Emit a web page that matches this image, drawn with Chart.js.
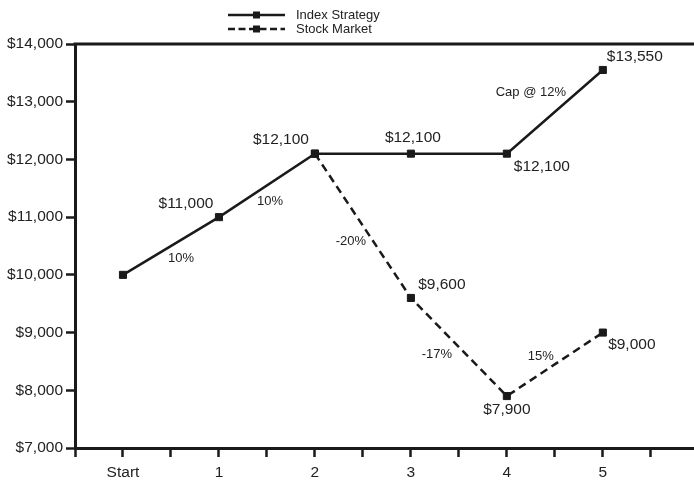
<!DOCTYPE html>
<html>
<head>
<meta charset="utf-8">
<script src="https://cdn.jsdelivr.net/npm/chart.js@4/dist/chart.umd.min.js"></script>
<style>
    html, body { margin: 0; padding: 0; background: #fff; }
    #wrap { width: 694px; height: 483px; }
</style>
</head>
<body>
<div id="wrap"><canvas id="growthChart"></canvas></div>
<script>
const categories = ['Start', '1', '2', '3', '4', '5'];
const indexStrategy = [10000, 11000, 12100, 12100, 12100, 13550];
const stockMarket = [null, null, 12100, 9600, 7900, 9000];

// text shown next to points and next to segments (segment i runs from point i to i+1)
const indexValueLabels = ['', '$11,000', '$12,100', '$12,100', '$12,100', '$13,550'];
const stockValueLabels = ['', '', '', '$9,600', '$7,900', '$9,000'];
const indexChangeLabels = ['10%', '10%', '', '', 'Cap @ 12%'];
const stockChangeLabels = ['', '', '-20%', '-17%', '15%'];

// pixel nudges for the labels above
const indexValueOffsets = [null, [-33, -13], [-34, -14], [2, -16], [35, 13], [32, -13]];
const stockValueOffsets = [null, null, null, [31, -13], [0, 14], [29, 12]];
const indexChangeOffsets = [[10, 12], [3, 16], null, null, [-24, -19]];
const stockChangeOffsets = [null, null, [-12, 16], [-22, 7], [-14, -8]];

const FONT = '"Liberation Sans", Arial, sans-serif';
const INK = '#1a1a1a';
const TEXT = '#222';

function toPoints(values) {
    return values.map((v, i) => ({ x: i, y: v }));
}

const annotationPlugin = {
    id: 'annotations',
    afterDatasetsDraw(chart) {
        const ctx = chart.ctx;
        const xs = chart.scales.x;
        const ys = chart.scales.y;
        ctx.save();
        ctx.fillStyle = TEXT;
        ctx.textAlign = 'center';
        ctx.textBaseline = 'middle';

        function valueLabels(values, texts, offsets) {
            texts.forEach((t, i) => {
                if (!t || values[i] == null) return;
                ctx.fillText(t, xs.getPixelForValue(i) + offsets[i][0], ys.getPixelForValue(values[i]) + offsets[i][1]);
            });
        }
        function changeLabels(values, texts, offsets) {
            texts.forEach((t, i) => {
                if (!t || values[i] == null || values[i + 1] == null) return;
                const mx = (xs.getPixelForValue(i) + xs.getPixelForValue(i + 1)) / 2;
                const my = (ys.getPixelForValue(values[i]) + ys.getPixelForValue(values[i + 1])) / 2;
                ctx.fillText(t, mx + offsets[i][0], my + offsets[i][1]);
            });
        }

        ctx.font = '15.5px ' + FONT;
        valueLabels(indexStrategy, indexValueLabels, indexValueOffsets);
        valueLabels(stockMarket, stockValueLabels, stockValueOffsets);

        ctx.font = '13px ' + FONT;
        changeLabels(indexStrategy, indexChangeLabels, indexChangeOffsets);
        changeLabels(stockMarket, stockChangeLabels, stockChangeOffsets);
        ctx.restore();
    },
    afterDraw(chart) {
        const ctx = chart.ctx;
        const area = chart.chartArea;
        ctx.save();

        // top frame line
        ctx.strokeStyle = INK;
        ctx.lineWidth = 3;
        ctx.beginPath();
        ctx.moveTo(area.left - 1.5, area.top);
        ctx.lineTo(area.right, area.top);
        ctx.stroke();

        // stacked legend above the plot
        const x0 = 228, x1 = 285, tx = 296;
        chart.data.datasets.forEach((ds, i) => {
            const y = 15 + i * 14;
            ctx.strokeStyle = INK;
            ctx.lineWidth = 2.5;
            ctx.setLineDash(ds.borderDash && ds.borderDash.length ? [7, 3.5] : []);
            ctx.beginPath();
            ctx.moveTo(x0, y);
            ctx.lineTo(x1, y);
            ctx.stroke();
            ctx.setLineDash([]);
            ctx.fillStyle = INK;
            ctx.fillRect((x0 + x1) / 2 - 3.5, y - 3.5, 7, 7);
            ctx.fillStyle = TEXT;
            ctx.font = '13px ' + FONT;
            ctx.textAlign = 'left';
            ctx.textBaseline = 'middle';
            ctx.fillText(ds.label, tx, y);
        });
        ctx.restore();
    }
};

const ctx = document.getElementById('growthChart').getContext('2d');
new Chart(ctx, {
    type: 'line',
    data: {
        datasets: [
            {
                label: 'Index Strategy',
                data: toPoints(indexStrategy),
                borderColor: INK,
                backgroundColor: INK,
                borderWidth: 2.5,
                pointStyle: 'rect',
                pointRadius: 5,
                pointBorderWidth: 1,
                tension: 0
            },
            {
                label: 'Stock Market',
                data: toPoints(stockMarket),
                borderColor: INK,
                backgroundColor: INK,
                borderWidth: 2.5,
                borderDash: [8, 5],
                pointStyle: 'rect',
                pointRadius: 5,
                pointBorderWidth: 1,
                spanGaps: false,
                tension: 0
            }
        ]
    },
    options: {
        responsive: true,
        maintainAspectRatio: false,
        animation: false,
        events: [],
        layout: { autoPadding: false, padding: { top: 44, right: 0, left: 0, bottom: 0 } },
        plugins: {
            legend: { display: false },
            tooltip: { enabled: false }
        },
        scales: {
            x: {
                type: 'linear',
                min: -0.5,
                max: 5.95,
                afterFit(scale) {
                    scale.height = 35;
                    scale.paddingLeft = 0;
                    scale.paddingRight = 0;
                },
                border: { color: INK, width: 3 },
                grid: { drawOnChartArea: false, tickLength: 9, tickColor: INK, tickWidth: 2.5 },
                ticks: {
                    stepSize: 0.5,
                    maxTicksLimit: 20,
                    includeBounds: false,
                    autoSkip: false,
                    maxRotation: 0,
                    padding: 6,
                    color: TEXT,
                    font: { size: 15.5, family: FONT },
                    callback: v => Math.abs(v - Math.round(v)) < 1e-6 ? categories[Math.round(v)] : ''
                }
            },
            y: {
                min: 7000,
                max: 14000,
                afterFit(scale) {
                    scale.width = 75;
                    scale.paddingTop = 0;
                    scale.paddingBottom = 0;
                },
                border: { color: INK, width: 3 },
                grid: { drawOnChartArea: false, tickLength: 9, tickColor: INK, tickWidth: 2.5 },
                ticks: {
                    stepSize: 1000,
                    padding: 3,
                    color: TEXT,
                    font: { size: 15.5, family: FONT },
                    callback: v => '$' + v.toLocaleString('en-US')
                }
            }
        }
    },
    plugins: [annotationPlugin]
});
</script>
</body>
</html>
